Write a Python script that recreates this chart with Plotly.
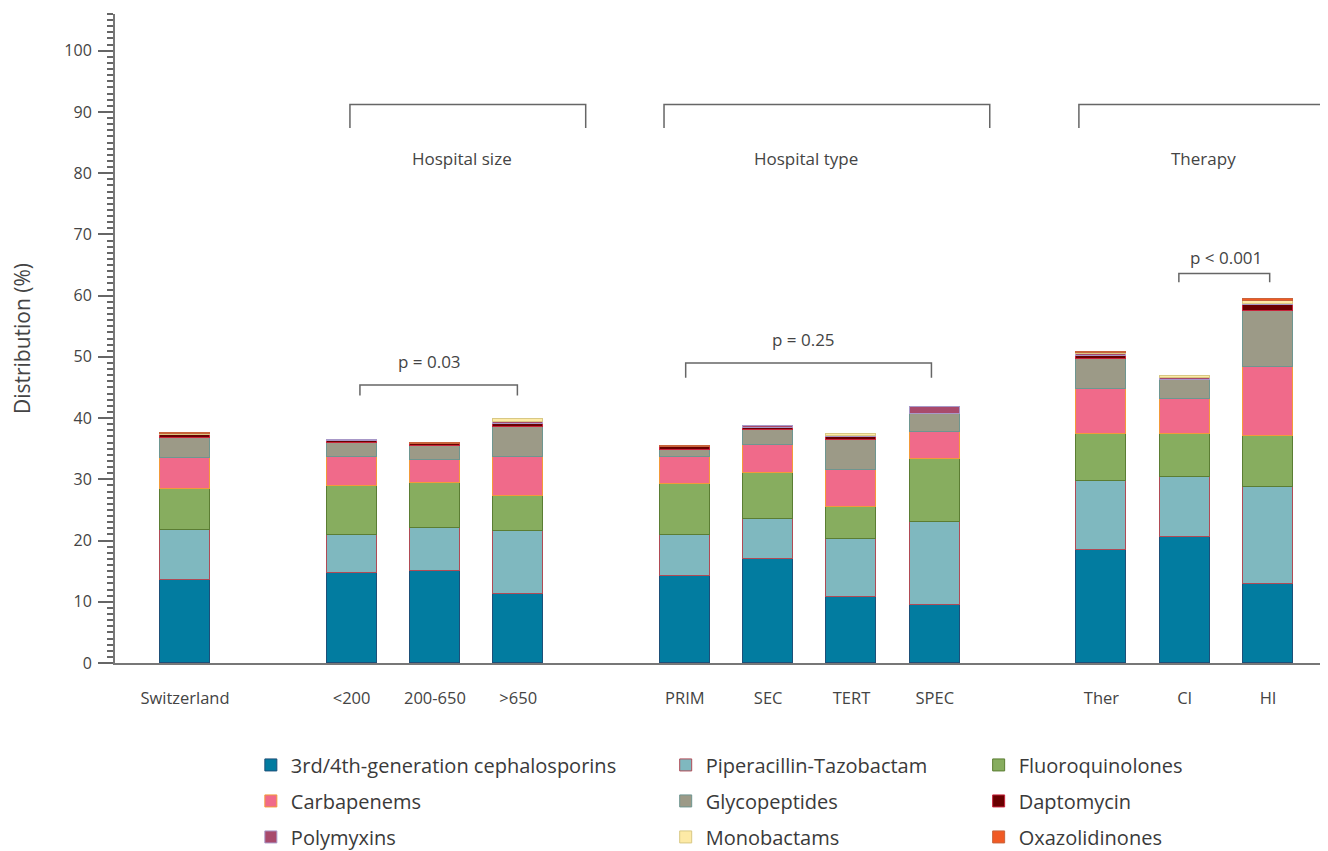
import plotly.graph_objects as go

# ---------------- data ----------------
groups = [
    ["Switzerland"],
    ["<200", "200-650", ">650"],
    ["PRIM", "SEC", "TERT", "SPEC"],
    ["Ther", "CI", "HI"],
]
categories = [c for g in groups for c in g]

cephalosporins = [13.5, 14.7, 15.0, 11.3, 14.2, 17.0, 10.8, 9.5, 18.5, 20.6, 12.9]
pip_tazo       = [8.2, 6.2, 7.1, 10.3, 6.7, 6.6, 9.5, 13.5, 11.3, 9.8, 15.8]
fluoroquin     = [6.7, 8.0, 7.3, 5.6, 8.4, 7.5, 5.2, 10.3, 7.6, 7.0, 8.4]
carbapenems    = [5.1, 4.8, 3.7, 6.4, 4.4, 4.5, 6.1, 4.5, 7.4, 5.7, 11.3]
glycopeptides  = [3.2, 2.3, 2.4, 5.0, 1.1, 2.5, 4.8, 2.8, 4.9, 3.1, 9.1]
daptomycin     = [0.5, 0.2, 0.2, 0.5, 0.5, 0.3, 0.5, None, 0.5, 0.1, 1.0]
polymyxins     = [0.1, 0.2, 0.1, 0.3, None, 0.3, 0.2, 1.2, 0.2, 0.2, 0.2]
monobactams    = [0.1, None, None, 0.4, None, None, 0.3, None, 0.2, 0.3, 0.5]
oxazolidinones = [0.1, None, 0.1, None, 0.2, None, None, None, 0.2, None, 0.2]

y_ticks = [0, 10, 20, 30, 40, 50, 60, 70, 80, 90, 100]

# positions: one empty slot between groups
xpos = []
p = 0
for g in groups:
    for c in g:
        xpos.append(p)
        p += 1
    p += 1

series = [
    ("3rd/4th-generation cephalosporins", cephalosporins, "#027ca0", "#1d4f78", "legend"),
    ("Piperacillin-Tazobactam", pip_tazo, "#7fb8bf", "#b04a55", "legend2"),
    ("Fluoroquinolones", fluoroquin, "#87ad5f", "#5b7d33", "legend3"),
    ("Carbapenems", carbapenems, "#f06a8a", "#f39a3a", "legend"),
    ("Glycopeptides", glycopeptides, "#9c9a87", "#6e9690", "legend2"),
    ("Daptomycin", daptomycin, "#6a0000", "#c8243c", "legend3"),
    ("Polymyxins", polymyxins, "#a84a6c", "#a898c8", "legend"),
    ("Monobactams", monobactams, "#fdeaa6", "#d8c884", "legend2"),
    ("Oxazolidinones", oxazolidinones, "#f15a24", "#c8643c", "legend3"),
]

fig = go.Figure()
for name, vals, fill, edge, lg in series:
    fig.add_trace(go.Bar(
        x=xpos, y=vals, name=name, width=0.6,
        marker=dict(color=fill, line=dict(color=edge, width=1)),
        legend=lg, legendgroup=name,
        hovertemplate="%{y}<extra>" + name + "</extra>",
    ))

txt = "#444444"
font_family = "Open Sans, Noto Sans, sans-serif"

legend_common = dict(
    orientation="v", yanchor="top", xanchor="left",
    font=dict(size=20, color="#3a3a3a", family=font_family),
    bgcolor="rgba(0,0,0,0)", tracegroupgap=7, traceorder="grouped",
)

fig.update_layout(
    width=1328, height=851,
    margin=dict(l=107, r=8, t=6, b=196, autoexpand=False),
    plot_bgcolor="white", paper_bgcolor="white",
    barmode="stack", bargap=0,
    font=dict(family=font_family, color=txt, size=15),
    legend=dict(x=0.112, y=-0.127, **legend_common),
    legend2=dict(x=0.454, y=-0.127, **legend_common),
    legend3=dict(x=0.712, y=-0.127, **legend_common),
    xaxis=dict(
        range=[-0.84, 13.72], tickvals=xpos, ticktext=categories,
        showline=True, linecolor="#777777", linewidth=2, ticks="",
        showgrid=False, zeroline=False, ticklabelstandoff=19,
        tickfont=dict(size=16.5, color=txt),
    ),
    yaxis=dict(
        range=[0, 106], tickvals=y_ticks, showline=True, linecolor="#777777",
        linewidth=2, ticks="outside", ticklen=15, tickwidth=2, tickcolor="#666666",
        minor=dict(ticks="outside", ticklen=6, dtick=1, tickcolor="#666666", tickwidth=1.5),
        showgrid=False, zeroline=False, ticklabelstandoff=3,
        tickfont=dict(size=16, color=txt),
        title=dict(text="Distribution (%)", font=dict(size=21, color=txt), standoff=34),
    ),
    showlegend=True,
)

bracket_color = "#666666"

def bracket(x0, x1, ytop, ybot):
    fig.add_shape(type="path",
                  path=f"M {x0},{ybot} L {x0},{ytop} L {x1},{ytop} L {x1},{ybot}",
                  line=dict(color=bracket_color, width=1.5), xref="x", yref="y")

# group brackets
bracket(1.98, 4.81, 91.2, 87.4)
bracket(5.75, 9.66, 91.2, 87.4)
bracket(10.73, 13.69, 91.2, 87.4)
# p-value brackets
bracket(2.1, 3.99, 45.4, 43.7)
bracket(6.01, 8.96, 49.0, 46.6)
bracket(11.93, 13.02, 63.6, 62.2)

labels = [
    (3.33, 82.4, "Hospital size"),
    (7.45, 82.4, "Hospital type"),
    (12.22, 82.4, "Therapy"),
    (2.94, 49.2, "p = 0.03"),
    (7.42, 52.8, "p = 0.25"),
    (12.5, 66.3, "p < 0.001"),
]
for x, y, t in labels:
    fig.add_annotation(x=x, y=y, text=t, showarrow=False, xref="x", yref="y",
                       font=dict(size=17, color=txt))

fig.write_html("out.html")
